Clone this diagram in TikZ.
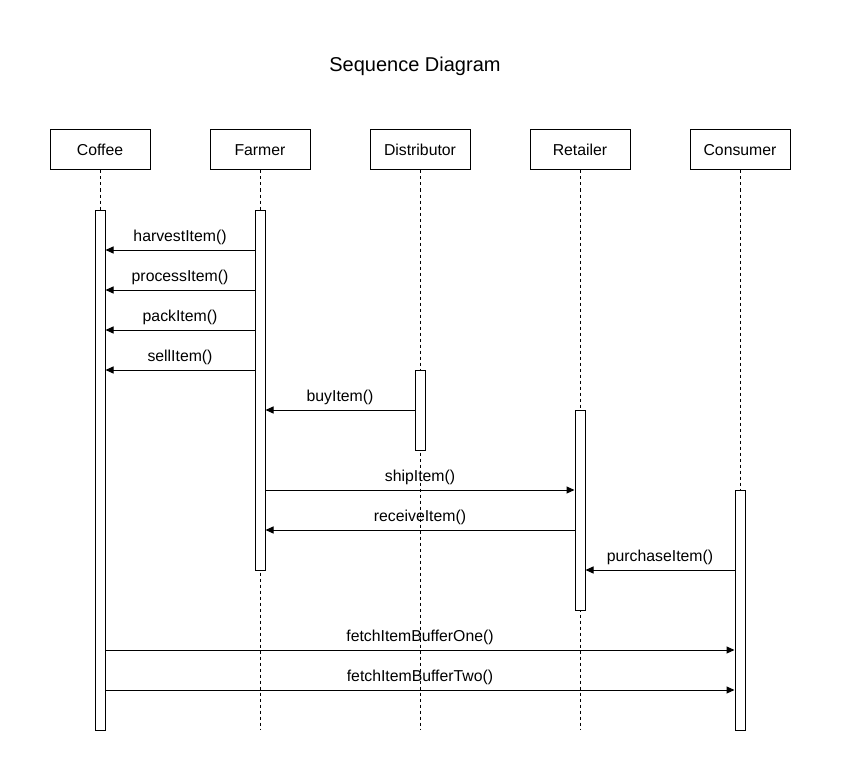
\documentclass[tikz,border=0pt]{standalone}
\usepackage{fontspec}
\setmainfont{Liberation Sans}
\usetikzlibrary{arrows.meta}

\begin{document}
\begin{tikzpicture}[x=1pt,y=1pt]
	\tikzstyle{every node}=[font=\fontsize{15.8}{18}\selectfont]
	\tikzstyle{actor}=[draw,line width=1pt,minimum width=100pt,minimum height=40pt,inner sep=0pt]
	\tikzstyle{bar}=[draw,fill=white,line width=1pt,minimum width=10pt,inner sep=0pt]
	\tikzstyle{lifeline}=[line width=0.8pt,dash pattern=on 3pt off 3pt]
	\tikzstyle{msg}=[line width=1pt,-{Triangle[length=8pt,width=7pt]}]

	\useasboundingbox (0,0) rectangle (841,-781);

	\node[font=\fontsize{20}{24}\selectfont] (title) at (415,-66) {Sequence Diagram};

	\node[actor] (coffee) at (100,-150) {Coffee};
	\node[actor] (farmer) at (260,-150) {Farmer};
	\node[actor] (distributor) at (420,-150) {Distributor};
	\node[actor] (retailer) at (580,-150) {Retailer};
	\node[actor] (consumer) at (740,-150) {Consumer};

	\coordinate (coffeeend) at (100,-730);
	\coordinate (farmerend) at (260,-730);
	\coordinate (distributorend) at (420,-730);
	\coordinate (retailerend) at (580,-730);
	\coordinate (consumerend) at (740,-730);
	\draw[lifeline] (coffee) -- (coffeeend);
	\draw[lifeline] (farmer) -- (farmerend);
	\draw[lifeline] (distributor) -- (distributorend);
	\draw[lifeline] (retailer) -- (retailerend);
	\draw[lifeline] (consumer) -- (consumerend);

	\node[bar,minimum height=520pt] (coffeebar) at (100,-470) {};
	\node[bar,minimum height=360pt] (farmerbar) at (260,-390) {};
	\node[bar,minimum height=80pt] (distributorbar) at (420,-410) {};
	\node[bar,minimum height=200pt] (retailerbar) at (580,-510) {};
	\node[bar,minimum height=240pt] (consumerbar) at (740,-610) {};

	\draw[msg] (farmerbar.west |- 0,-250) -- node[above=1pt] (harvest) {harvestItem()} (coffeebar.east |- 0,-250);
	\draw[msg] (farmerbar.west |- 0,-290) -- node[above=1pt] (process) {processItem()} (coffeebar.east |- 0,-290);
	\draw[msg] (farmerbar.west |- 0,-330) -- node[above=1pt] (pack) {packItem()} (coffeebar.east |- 0,-330);
	\draw[msg] (farmerbar.west |- 0,-370) -- node[above=1pt] (sell) {sellItem()} (coffeebar.east |- 0,-370);
	\draw[msg] (distributorbar.west |- 0,-410) -- node[above=1pt] (buy) {buyItem()} (farmerbar.east |- 0,-410);
	\draw[msg] (farmerbar.east |- 0,-490) -- node[above=1pt] (ship) {shipItem()} (retailerbar.west |- 0,-490);
	\draw[msg] (retailerbar.west |- 0,-530) -- node[above=1pt] (receive) {receiveItem()} (farmerbar.east |- 0,-530);
	\draw[msg] (consumerbar.west |- 0,-570) -- node[above=1pt] (purchase) {purchaseItem()} (retailerbar.east |- 0,-570);
	\draw[msg] (coffeebar.east |- 0,-650) -- node[above=1pt] (fetchone) {fetchItemBufferOne()} (consumerbar.west |- 0,-650);
	\draw[msg] (coffeebar.east |- 0,-690) -- node[above=1pt] (fetchtwo) {fetchItemBufferTwo()} (consumerbar.west |- 0,-690);
\end{tikzpicture}
\end{document}
